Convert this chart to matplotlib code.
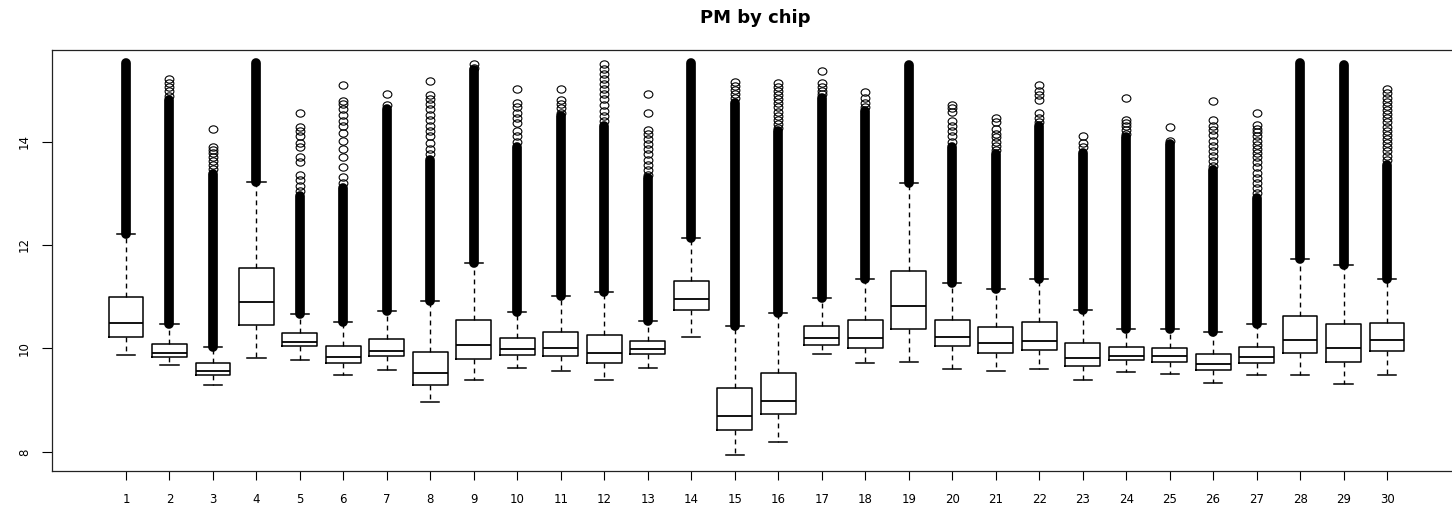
import matplotlib
matplotlib.use("Agg")
import matplotlib.pyplot as plt
from matplotlib.path import Path
from matplotlib.transforms import Affine2D

# Per-chip summary of PM intensities (log2 scale)
chips = list(range(1, 31))
whisker_lo = [9.87, 9.67, 9.30, 9.81, 9.78, 9.48, 9.59, 8.96, 9.39, 9.63,
              9.57, 9.39, 9.63, 10.22, 7.93, 8.19, 9.90, 9.72, 9.74, 9.61,
              9.57, 9.61, 9.39, 9.55, 9.50, 9.33, 9.48, 9.48, 9.31, 9.48]
q1 = [10.22, 9.83, 9.48, 10.46, 10.04, 9.72, 9.85, 9.29, 9.79, 9.88,
      9.85, 9.72, 9.89, 10.74, 8.43, 8.74, 10.06, 10.00, 10.38, 10.04,
      9.92, 9.96, 9.66, 9.77, 9.74, 9.59, 9.72, 9.92, 9.74, 9.95]
median = [10.50, 9.92, 9.57, 10.90, 10.12, 9.83, 9.95, 9.52, 10.06, 9.98,
          10.00, 9.92, 9.98, 10.96, 8.69, 8.99, 10.20, 10.20, 10.82, 10.23,
          10.11, 10.15, 9.81, 9.85, 9.85, 9.70, 9.83, 10.17, 10.00, 10.17]
q3 = [11.00, 10.08, 9.71, 11.56, 10.30, 10.04, 10.19, 9.93, 10.55, 10.21,
      10.32, 10.26, 10.15, 11.30, 9.24, 9.52, 10.43, 10.55, 11.50, 10.55,
      10.41, 10.52, 10.11, 10.03, 10.00, 9.89, 10.03, 10.63, 10.48, 10.50]
whisker_hi = [12.21, 10.48, 10.02, 13.22, 10.66, 10.51, 10.73, 10.92, 11.66, 10.71,
              11.01, 11.09, 10.53, 12.13, 10.44, 10.68, 10.97, 11.34, 13.19, 11.26,
              11.14, 11.35, 10.75, 10.38, 10.37, 10.31, 10.48, 11.72, 11.61, 11.34]

# Upper end of the densely packed run of outliers above each whisker
outlier_band_top = [15.51, 14.80, 13.38, 15.51, 12.95, 13.10, 14.62, 13.65, 15.38, 13.90,
                    14.50, 14.30, 13.30, 15.51, 14.75, 14.20, 14.85, 14.60, 15.48, 13.90,
                    13.75, 14.30, 13.78, 14.08, 13.95, 13.45, 12.90, 15.51, 15.48, 13.55]

# Individually visible outliers above the dense run
upper_outliers = [
    [],
    [15.20, 15.13, 15.06, 14.98, 14.88],
    [14.25, 13.90, 13.84, 13.77, 13.70, 13.62, 13.55, 13.46],
    [],
    [14.55, 14.29, 14.21, 14.11, 13.98, 13.90, 13.71, 13.60, 13.36, 13.26, 13.15, 13.05],
    [15.10, 14.79, 14.72, 14.62, 14.51, 14.40, 14.30, 14.16, 14.01, 13.85, 13.70, 13.50, 13.32, 13.20],
    [14.92, 14.70],
    [15.18, 14.90, 14.82, 14.72, 14.62, 14.52, 14.41, 14.30, 14.20, 14.10, 13.98, 13.86, 13.76],
    [15.49, 15.43],
    [15.01, 14.75, 14.66, 14.56, 14.46, 14.35, 14.21, 14.10, 14.00],
    [15.01, 14.80, 14.72, 14.64, 14.56],
    [15.49, 15.40, 15.31, 15.21, 15.12, 15.02, 14.92, 14.82, 14.70, 14.60, 14.50, 14.40],
    [14.91, 14.55, 14.22, 14.15, 14.05, 13.95, 13.86, 13.75, 13.65, 13.55, 13.45, 13.36],
    [],
    [15.16, 15.08, 15.00, 14.92, 14.84],
    [15.13, 15.06, 14.98, 14.90, 14.82, 14.74, 14.66, 14.58, 14.50, 14.42, 14.34, 14.26],
    [15.36, 15.13, 15.06, 14.98, 14.91],
    [14.95, 14.85, 14.75, 14.67],
    [],
    [14.71, 14.64, 14.58, 14.40, 14.30, 14.20, 14.10, 14.00],
    [14.45, 14.38, 14.25, 14.15, 14.08, 14.00, 13.92, 13.83],
    [15.10, 14.98, 14.90, 14.80, 14.55, 14.45, 14.38],
    [14.11, 13.98, 13.90],
    [14.84, 14.42, 14.36, 14.30, 14.22, 14.15],
    [14.29, 14.02],
    [14.79, 14.42, 14.30, 14.22, 14.12, 14.02, 13.92, 13.82, 13.72, 13.62, 13.53],
    [14.56, 14.32, 14.25, 14.18, 14.10, 14.02, 13.94, 13.86, 13.78, 13.70,
     13.60, 13.50, 13.40, 13.30, 13.20, 13.10, 13.00],
    [],
    [],
    [15.01, 14.93, 14.85, 14.77, 14.69, 14.61, 14.53, 14.45, 14.37, 14.29,
     14.21, 14.13, 14.05, 13.97, 13.89, 13.81, 13.73, 13.65],
]

x_tick_labels = [str(c) for c in chips]
y_ticks = [8, 10, 12, 14]

fig = plt.figure(figsize=(14.52, 5.11), dpi=100)
ax = fig.add_axes([52 / 1452, 40 / 511, 1409 / 1452, 421 / 511])

# slightly wide open ring used for outlier points
ring = Path.unit_circle().transformed(Affine2D().scale(1.2, 1.0))

stats = []
for c, lo, a, m, b, hi, fl in zip(chips, whisker_lo, q1, median, q3, whisker_hi, upper_outliers):
    stats.append(dict(label=str(c), whislo=lo, q1=a, med=m, q3=b, whishi=hi, fliers=fl))

# dense outlier runs drawn as solid columns of overlapping points
for c, hi, top in zip(chips, whisker_hi, outlier_band_top):
    ax.plot([c, c], [hi, top], color="black", lw=7.0, solid_capstyle="round", zorder=1)

ax.bxp(
    stats,
    positions=chips,
    widths=0.8,
    capwidths=0.42,
    showfliers=True,
    manage_ticks=False,
    boxprops=dict(color="black", lw=1.1),
    whiskerprops=dict(color="black", lw=1.0, linestyle=(0, (3.5, 3))),
    capprops=dict(color="black", lw=1.1),
    medianprops=dict(color="black", lw=1.3),
    flierprops=dict(marker=ring, markersize=6.3, markerfacecolor="none",
                    markeredgecolor="black", markeredgewidth=0.8, linestyle="none"),
)

ax.set_xlim(-0.7, 31.7)
ax.set_ylim(7.63, 15.77)
ax.set_xticks(chips)
ax.set_xticklabels(x_tick_labels, fontsize=8.5, family="DejaVu Sans")
ax.set_yticks(y_ticks)
ax.set_yticklabels([str(v) for v in y_ticks], fontsize=8.5, family="DejaVu Sans")
for lab in ax.get_yticklabels():
    lab.set_rotation(90)
    lab.set_va("center")

ax.tick_params(axis="x", length=6.5, width=0.8, pad=9, color="black")
ax.tick_params(axis="y", length=7.2, width=0.8, pad=8, color="black")
for sp in ax.spines.values():
    sp.set_linewidth(0.9)
    sp.set_color("#222222")

fig.text(755 / 1452, 1 - 22.7 / 511, "PM by chip", ha="center", va="baseline",
         fontsize=13, fontweight="bold", family="DejaVu Sans")

fig.savefig("out.png", dpi=100)
